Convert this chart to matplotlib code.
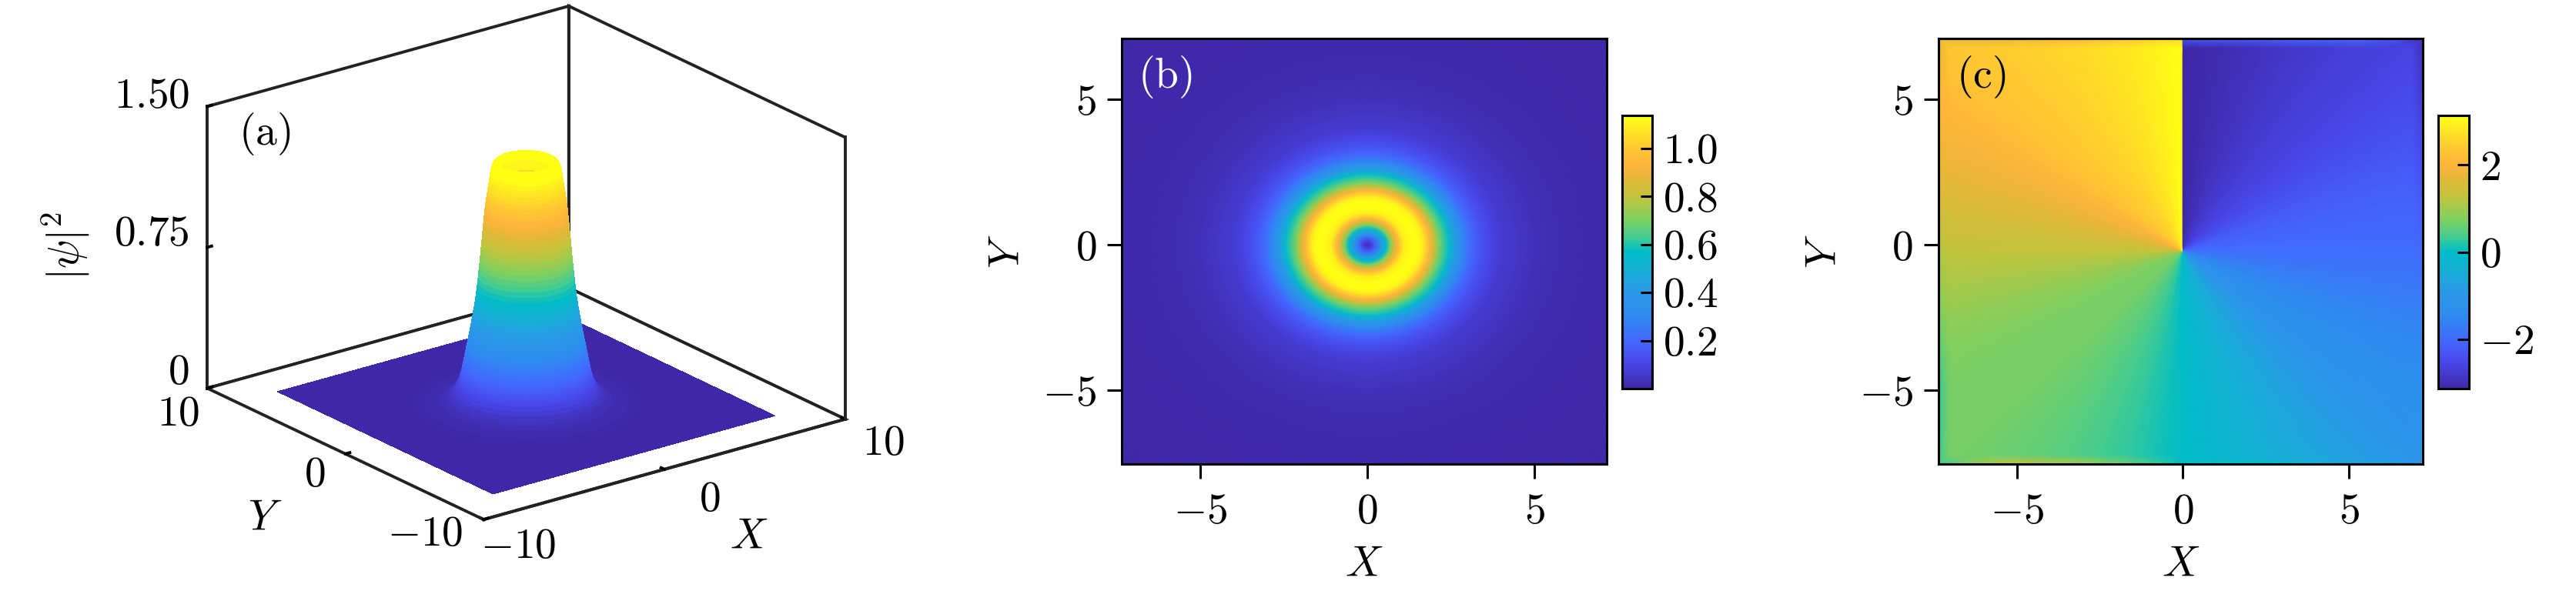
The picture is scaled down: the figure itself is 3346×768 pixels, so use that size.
import numpy as np
import matplotlib
matplotlib.use('Agg')
import matplotlib.pyplot as plt
from matplotlib.colors import LinearSegmentedColormap

plt.rcParams['mathtext.fontset'] = 'cm'
plt.rcParams['font.family'] = ['cmr10', 'DejaVu Sans']
plt.rcParams['axes.unicode_minus'] = False
plt.rcParams['axes.formatter.use_mathtext'] = True

cmap_pos = [0.0, 0.10, 0.17, 0.27, 0.35, 0.44, 0.50, 0.55, 0.62, 0.70, 0.77, 0.82, 0.88, 1.0]
cmap_col = ['#3F28A8', '#4848EC', '#4466FF', '#2E8CF0', '#2A98E8', '#14B0D4', '#00BCC8',
            '#3CCB96', '#80D060', '#C0C43C', '#E4B838', '#FFB43C', '#FFC832', '#FFFF14']

# panel (a): perfil de altura contra radio
r_a = [0.00, 0.30, 0.55, 0.70, 0.90, 1.05, 1.15, 1.25, 1.300, 1.325, 1.350, 1.375, 1.400, 1.425, 1.450, 1.475,
       1.500, 1.525, 1.550, 1.575, 1.600, 1.625, 1.650, 1.675, 1.700, 1.725, 1.750, 1.775, 1.800, 1.825, 1.850,
       1.875, 1.900, 1.925, 1.950, 1.975, 2.000, 2.025, 2.050, 2.075, 2.100, 2.125, 2.150, 2.175, 2.200, 2.225,
       2.250, 2.275, 2.300, 2.325, 2.350, 2.375, 2.400, 2.425, 2.450, 2.475, 2.500, 2.525, 2.550, 2.575, 2.600,
       2.625, 2.650, 2.675, 2.700, 2.725, 2.750, 2.775, 2.800, 2.825, 2.850, 2.875, 2.900, 2.925, 2.950, 2.975,
       3.00, 3.10, 3.20, 3.35, 3.50, 3.75, 4.00, 4.50, 5.00, 6.00]
z_a = [0.02, 0.30, 0.65, 0.85, 1.08, 1.20, 1.25, 1.28, 1.290, 1.290, 1.289, 1.287, 1.285, 1.282, 1.278, 1.273,
       1.266, 1.255, 1.242, 1.225, 1.205, 1.186, 1.167, 1.148, 1.130, 1.110, 1.090, 1.070, 1.050, 1.022, 0.993,
       0.963, 0.932, 0.900, 0.868, 0.835, 0.802, 0.772, 0.742, 0.713, 0.685, 0.657, 0.630, 0.604, 0.580, 0.560,
       0.541, 0.522, 0.504, 0.487, 0.470, 0.453, 0.437, 0.421, 0.405, 0.390, 0.375, 0.360, 0.345, 0.330, 0.315,
       0.300, 0.285, 0.270, 0.255, 0.240, 0.226, 0.212, 0.198, 0.185, 0.172, 0.160, 0.149, 0.139, 0.129, 0.120,
       0.112, 0.09, 0.07, 0.05, 0.035, 0.022, 0.014, 0.007, 0.003, 0.001]
lado_a = 7.8

# panel (b): densidad contra radio
r_b = [0.0, 0.10, 0.20, 0.30, 0.42, 0.56, 0.68, 0.80, 0.90, 1.00, 1.10, 1.30, 1.50, 1.64, 1.75, 1.87, 2.00,
       2.14, 2.30, 2.45, 2.65, 2.85, 3.10, 3.40, 3.70, 4.00, 4.50, 5.00, 6.00, 7.00, 11.0]
d_b = [0.02, 0.08, 0.16, 0.26, 0.42, 0.55, 0.70, 0.84, 0.93, 1.03, 1.10, 1.135, 1.135, 1.10, 1.03, 0.93, 0.82,
       0.70, 0.62, 0.55, 0.40, 0.30, 0.20, 0.14, 0.10, 0.07, 0.05, 0.03, 0.012, 0.005, 0.0]

# panel (c): fase en el borde del cuadro, en sentido horario desde el corte
borde_x = [-0.03, 0.85, 1.7, 2.6, 3.5, 4.4, 5.3, 6.3, 7.22, 7.22, 7.22, 7.22, 7.22, 7.22, 7.22, 7.22, 7.22, 7.22, 7.22,
           7.22, 7.22, 6.3, 5.3, 4.4, 3.5, 2.6, 1.7, 0.85, 0.0, -0.85, -1.7, -2.6, -3.5, -4.4, -5.3, -6.3, -7.37,
           -7.37, -7.37, -7.37, -7.37, -7.37, -7.37, -7.37, -7.37, -7.37, -7.37, -7.37, -7.37, -6.3, -5.3, -4.4,
           -3.5, -2.6, -1.7, -0.85, -0.03]
borde_y = [7.1, 7.1, 7.1, 7.1, 7.1, 7.1, 7.1, 7.1, 7.1, 6.0, 5.0, 3.75, 2.5, 1.15, -0.2, -1.35, -2.5, -3.75, -5.0,
           -6.25, -7.53, -7.53, -7.53, -7.53, -7.53, -7.53, -7.53, -7.53, -7.53, -7.53, -7.53, -7.53, -7.53, -7.53,
           -7.53, -7.53, -7.53, -6.25, -5.0, -3.75, -2.5, -1.35, -0.2, 1.15, 2.5, 3.75, 5.0, 6.0, 7.1, 7.1, 7.1,
           7.1, 7.1, 7.1, 7.1, 7.1, 7.1]
fase_int = [-3.14, -3.08, -3.00, -2.91, -2.82, -2.75, -2.68, -2.64, -2.60, -2.53, -2.45, -2.33, -2.20, -2.08, -1.95,
            -1.78, -1.60, -1.45, -1.30, -1.17, -1.05, -0.92, -0.80, -0.67, -0.55, -0.41, -0.28, -0.14, 0.0, 0.12,
            0.25, 0.36, 0.46, 0.54, 0.60, 0.66, 0.70, 0.70, 0.70, 0.78, 0.90, 1.08, 1.28, 1.50, 1.75, 1.92, 2.10,
            2.25, 2.35, 2.40, 2.46, 2.52, 2.60, 2.70, 2.82, 2.97, 3.14]
fase_bor = [-2.30, -2.25, -2.20, -2.12, -2.05, -2.02, -2.00, -2.30, -3.00, -2.88, -2.75, -2.58, -2.40, -2.20, -2.00,
            -1.80, -1.60, -1.45, -1.30, -1.15, -1.00, -0.85, -0.70, -0.52, -0.35, -0.22, -0.10, -0.05, 0.0, 0.30,
            0.60, 0.85, 1.10, 1.18, 1.25, 0.90, 0.30, 0.27, 0.25, 0.45, 0.70, 0.92, 1.15, 1.45, 1.75, 1.90, 2.00,
            1.85, 1.70, 1.72, 1.75, 1.88, 2.00, 2.15, 2.30, 2.45, 2.60]
s_c = [0.0, 0.955, 1.0]

ticks_2d = [-5, 0, 5]
ticks_2d_txt = [r'$-5$', r'$0$', r'$5$']
ticks_b = [0.2, 0.4, 0.6, 0.8, 1.0]
ticks_b_txt = [r'$0.2$', r'$0.4$', r'$0.6$', r'$0.8$', r'$1.0$']
ticks_c = [-2, 0, 2]
ticks_c_txt = [r'$-2$', r'$0$', r'$2$']
ticks_xy = [-10, 0, 10]
ticks_xy_txt = [r'$-10$', r'$0$', r'$10$']
ticks_z = [0, 0.75, 1.5]
ticks_z_txt = [r'$0$', r'$0.75$', r'$1.50$']

W, H = 3346, 768
FS = 20
LW = 1.1
LW3D = 1.4
cmap = LinearSegmentedColormap.from_list('campo', list(zip(cmap_pos, cmap_col)), N=512)


def caja(x0, y0, x1, y1):
    # rectangulo en pixeles (origen arriba a la izquierda) a fraccion de figura
    return [x0 / W, 1 - y1 / H, (x1 - x0) / W, (y1 - y0) / H]


def txt(x, y, s, **kw):
    # texto colocado en pixeles de la figura
    kw.setdefault('ha', 'center')
    fig.text(x / W, 1 - y / H, s, fontsize=FS, va='center', **kw)


def estilo_2d(ax):
    ax.set_xticks(ticks_2d, ticks_2d_txt, fontsize=FS)
    ax.set_yticks(ticks_2d, ticks_2d_txt, fontsize=FS)
    ax.tick_params(length=6.8, width=LW)
    ax.tick_params(axis='x', pad=7)
    ax.tick_params(axis='y', pad=5)
    for sp in ax.spines.values():
        sp.set_linewidth(LW)
    ax.set_xlabel(r'$X$', fontsize=FS, labelpad=7)
    ax.set_ylabel(r'$Y$', fontsize=FS, labelpad=7)


def barra(fig, mesh, rect, ticks, etiquetas):
    cax = fig.add_axes(caja(*rect))
    cb = fig.colorbar(mesh, cax=cax)
    cb.set_ticks(ticks, labels=etiquetas, fontsize=FS)
    cb.ax.tick_params(direction='in', length=5.5, width=LW, pad=5)
    cb.outline.set_linewidth(LW)


fig = plt.figure(figsize=(W / 200, H / 200), dpi=200)

# panel (a)
S = 700
ax_a = fig.add_axes(caja(683.5 - 0.5135 * S, 341.5 - (1 - 0.5135) * S, 683.5 + (1 - 0.5135) * S, 341.5 + 0.5135 * S),
                    projection='3d', proj_type='ortho')
ax_a.patch.set_alpha(0)
ax_a.view_init(elev=21.3, azim=-127.4)
ax_a.set_box_aspect((1, 1, 0.665), zoom=1.281)

t = np.deg2rad(np.arange(0, 361, 3))
rr = np.append(r_a, np.nan)
R, T = np.meshgrid(rr, t)
R[:, -1] = lado_a / np.maximum(np.abs(np.cos(t)), np.abs(np.sin(t)))
Z = np.tile(np.append(z_a, 0.0), (len(t), 1))
ax_a.plot_surface(R * np.cos(T), R * np.sin(T), Z, cmap=cmap, vmin=0, vmax=1.25, rstride=1, cstride=1,
                  linewidth=0, antialiased=False, shade=False)
# la arista derecha de la pared no la dibuja el panel (poligono abierto)
ax_a.plot([10, 10], [-10, -10], [0, 1.5], color='#222222', lw=LW3D, clip_on=False)
ax_a.set_xlim(-10, 10)
ax_a.set_ylim(-10, 10)
ax_a.set_zlim(0, 1.5)
ax_a.grid(False)
for eje in (ax_a.xaxis, ax_a.yaxis, ax_a.zaxis):
    eje.set_pane_color('white')
    eje.pane.set_edgecolor('#222222')
    eje.pane.set_linewidth(LW3D)
    eje.line.set_color('#222222')
    eje.line.set_linewidth(LW3D)
    eje._axinfo['tick']['inward_factor'] = 0.0
    eje._axinfo['tick']['outward_factor'] = 0.15
    eje._axinfo['tick']['linewidth'] = {True: LW3D, False: LW3D}
    eje._axinfo['tick']['color'] = '#222222'
ax_a.set_xticks(ticks_xy, [''] * 3)
ax_a.set_yticks(ticks_xy, [''] * 3)
ax_a.set_zticks(ticks_z, [''] * 3)
txt(673, 711, ticks_xy_txt[0])
txt(922, 650, ticks_xy_txt[1])
txt(1148, 577, ticks_xy_txt[2])
txt(552, 695, ticks_xy_txt[0])
txt(409, 618, ticks_xy_txt[1])
txt(232, 539, ticks_xy_txt[2])
txt(246, 485, ticks_z_txt[0], ha='right')
txt(246, 305, ticks_z_txt[1], ha='right')
txt(246, 126, ticks_z_txt[2], ha='right')
txt(973, 699, r'$X$')
txt(344, 675, r'$Y$')
txt(86, 320, r'$|\psi|^2$', rotation=90)
txt(344, 174, r'$\mathrm{(a)}$')

# panel (b)
ax_b = fig.add_axes(caja(1457, 50, 2087, 603))
t = np.deg2rad(np.arange(0, 361, 3))
R, T = np.meshgrid(r_b, t)
D = np.tile(d_b, (len(t), 1))
mesh_b = ax_b.pcolormesh(R * np.cos(T), R * np.sin(T), D, cmap=cmap, vmin=0, vmax=1.137, shading='gouraud')
ax_b.set_xlim(-7.35, 7.16)
ax_b.set_ylim(-7.53, 7.1)
estilo_2d(ax_b)
txt(1513, 100, r'$\mathrm{(b)}$', color='white')
barra(fig, mesh_b, (2106.5, 150, 2146, 505), ticks_b, ticks_b_txt)

# panel (c)
ax_c = fig.add_axes(caja(2517.5, 50, 3147, 603))
bx = np.array(borde_x)
by = np.array(borde_y)
s = np.array(s_c)
Xc = np.outer(bx + 0.03, s) - 0.03
Yc = np.outer(by + 0.2, s) - 0.2
Fc = np.column_stack([fase_int, fase_int, fase_bor])
mesh_c = ax_c.pcolormesh(Xc, Yc, Fc, cmap=cmap, vmin=-3.14, vmax=3.14, shading='gouraud')
ax_c.set_xlim(-7.37, 7.22)
ax_c.set_ylim(-7.53, 7.1)
estilo_2d(ax_c)
txt(2573, 100, r'$\mathrm{(c)}$')
barra(fig, mesh_c, (3167, 150, 3207, 505), ticks_c, ticks_c_txt)

fig.savefig('out.png', dpi=200)
